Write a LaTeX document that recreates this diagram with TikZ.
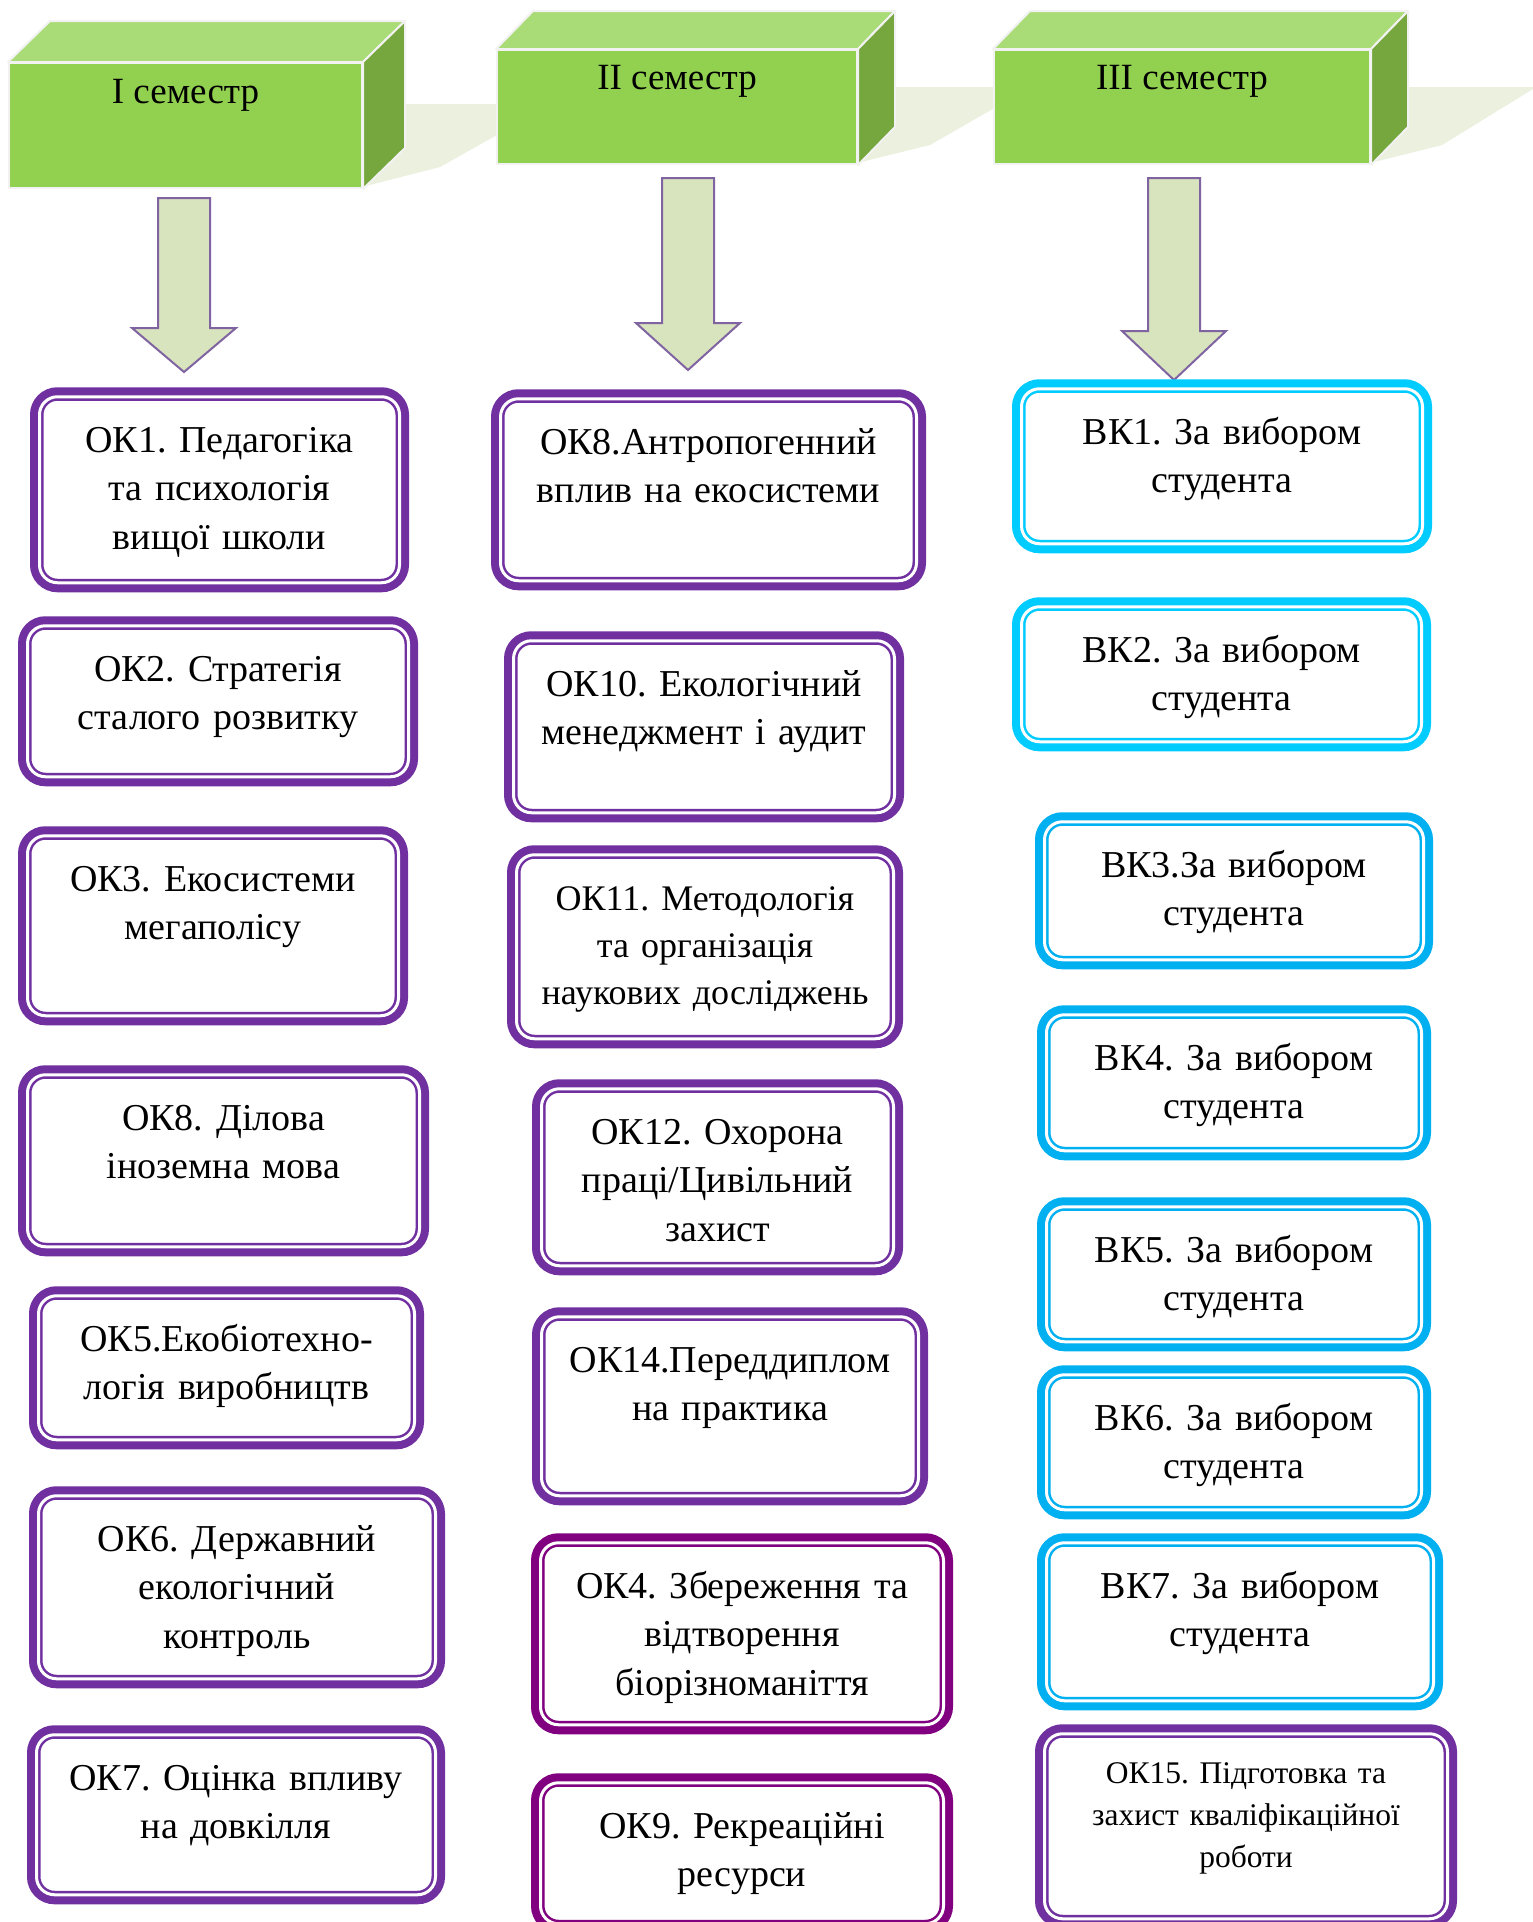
\documentclass[tikz,border=0pt]{standalone}
\usepackage{fontspec}
\setmainfont{Liberation Serif}
\usetikzlibrary{positioning}

\definecolor{okpurple}{HTML}{7030A0}
\definecolor{okmagenta}{HTML}{800080}
\definecolor{bkcyan}{HTML}{00CCFF}
\definecolor{bkblue}{HTML}{00B0F0}
\definecolor{cubefront}{HTML}{92D050}
\definecolor{cubetop}{HTML}{A9DB76}
\definecolor{cubeside}{HTML}{76A73E}
\definecolor{cubeedge}{HTML}{F2F2F2}
\definecolor{shadowgreen}{HTML}{EBF0DF}
\definecolor{arrowfill}{HTML}{D7E4BD}
\definecolor{arrowdraw}{HTML}{8064A2}

\begin{document}
\frenchspacing
\begin{tikzpicture}[x=1pt, y=-1pt,
obox/.style n args = {3}{preaction = {draw = #1, line width = 19pt}, draw = #1, fill = white, line width = 2.5pt, double = white, double distance = 3pt, rounded corners = 18pt, anchor = north, inner sep = 0pt, minimum width = #2-19, text width = #2-30, align = center, text height = 55.5pt, text depth = #3-74.5, font = \fontsize{38pt}{48.5pt}\selectfont},
semfront/.style 2 args = {fill = cubefront, draw = cubeedge, line width = 2pt, anchor = north, inner sep = 0pt, minimum width = #1, text height = 40pt, text depth = #2-40, font = \fontsize{37pt}{44pt}\selectfont},
cubetopface/.style = {fill = cubetop, draw = cubeedge, line width = 2pt, line join = round},
cubesideface/.style = {fill = cubeside, draw = cubeedge, line width = 2pt, line join = round},
blockarrow/.style = {fill = arrowfill, draw = arrowdraw, line width = 2pt},
]
\clip (0,0) rectangle (1533,1922);
\fill[white] (0,0) rectangle (1533,1922);

% shadows behind the semester blocks
\fill[shadowgreen] (362,187) -- (440,167) -- (520,122) -- (520,104) -- (403,104) -- cycle;
\fill[shadowgreen] (857,163) -- (930,145) -- (1010,99) -- (1010,87) -- (894,87) -- cycle;
\fill[shadowgreen] (1370,163) -- (1442,145) -- (1533,89) -- (1533,87) -- (1407,87) -- cycle;

\node[semfront = {353}{125}] (sem1) at (185.5, 62) {I семестр};
\node[semfront = {360}{114}, text height = 39pt, text depth = 75pt] (sem2) at (677, 49) {II семестр};
\node[semfront = {376}{114}, text height = 39pt, text depth = 75pt] (sem3) at (1182, 49) {III семестр};

\foreach \s/\dx/\dy in {sem1/42/-41, sem2/37/-38, sem3/37/-38} {
  \draw[cubetopface] (\s.north west) -- ++(\dx,\dy) -- ([shift={(\dx,\dy)}]\s.north east) -- (\s.north east) -- cycle;
  \draw[cubesideface] (\s.north east) -- ++(\dx,\dy) -- ([shift={(\dx,\dy)}]\s.south east) -- (\s.south east) -- cycle;
}

\foreach \cx/\ya/\yb/\yc in {184/198/328/372, 688/178/323/370, 1174/178/331/380}
  \draw[blockarrow] (\cx-26,\ya) -- (\cx+26,\ya) -- (\cx+26,\yb) -- (\cx+52,\yb) -- (\cx,\yc) -- (\cx-52,\yb) -- (\cx-26,\yb) -- cycle;

% I semester
\node[obox = {okpurple}{379}{205}] (ok1) at (219.5, 395.5) {ОК1. Педагогіка\\та психологія\\вищої школи};
\node[obox = {okpurple}{400}{170}] (ok2) at (218, 624.5) {ОК2. Стратегія\\сталого розвитку};
\node[obox = {okpurple}{390}{199}] (ok3) at (213, 834.5) {ОК3. Екосистеми\\мегаполісу};
\node[obox = {okpurple}{411}{191}] (okdl) at (223.5, 1073.5) {ОК8. Ділова\\іноземна мова};
\node[obox = {okpurple}{395}{163}] (ok5) at (226.5, 1294.5) {ОК5.Екобіотехно-\\логія виробництв};
\node[obox = {okpurple}{416}{202}] (ok6) at (237, 1494.5) {ОК6. Державний\\екологічний\\контроль};
\node[obox = {okpurple}{418}{179}] (ok7) at (236, 1733.5) {ОК7. Оцінка впливу\\на довкілля};

% II semester
\node[obox = {okpurple}{435}{201}] (ok8) at (708.5, 397.5) {ОК8.Антропогенний\\вплив на екосистеми};
\node[obox = {okpurple}{400}{191}] (ok10) at (704, 639.5) {ОК10. Екологічний\\менеджмент і аудит};
\node[obox = {okpurple}{396}{203}, font = \fontsize{36pt}{47pt}\selectfont] (ok11) at (705, 853.5) {ОК11. Методологія\\та організація\\наукових досліджень};
\node[obox = {okpurple}{371}{196}] (ok12) at (717.5, 1087.5) {ОК12. Охорона\\праці/Цивільний\\захист};
\node[obox = {okpurple}{396}{198}] (ok14) at (730, 1315.5) {ОК14.Переддиплом\\на практика};
\node[obox = {okmagenta}{422}{201}] (ok4) at (742, 1541.5) {ОК4. Збереження та\\відтворення\\біорізноманіття};
\node[obox = {okmagenta}{422}{160}] (ok9) at (742, 1781.5) {ОК9. Рекреаційні\\ресурси};

% III semester
\node[obox = {bkcyan}{420}{174}] (bk1) at (1222, 387.5) {ВК1. За вибором\\студента};
\node[obox = {bkcyan}{419}{154}] (bk2) at (1221.5, 605.5) {ВК2. За вибором\\студента};
\node[obox = {bkblue}{398}{157}] (bk3) at (1234, 820.5) {ВК3.За вибором\\студента};
\node[obox = {bkblue}{394}{155}] (bk4) at (1234, 1013.5) {ВК4. За вибором\\студента};
\node[obox = {bkblue}{394}{154}] (bk5) at (1234, 1205.5) {ВК5. За вибором\\студента};
\node[obox = {bkblue}{394}{154}] (bk6) at (1234, 1373.5) {ВК6. За вибором\\студента};
\node[obox = {bkblue}{406}{177}] (bk7) at (1240, 1541.5) {ВК7. За вибором\\студента};
\node[obox = {okpurple}{422}{210}, text height = 49.5pt, font = \fontsize{31.5pt}{42pt}\selectfont] (ok15) at (1246, 1732.5) {ОК15. Підготовка та\\захист кваліфікаційної\\роботи};
\end{tikzpicture}
\end{document}
